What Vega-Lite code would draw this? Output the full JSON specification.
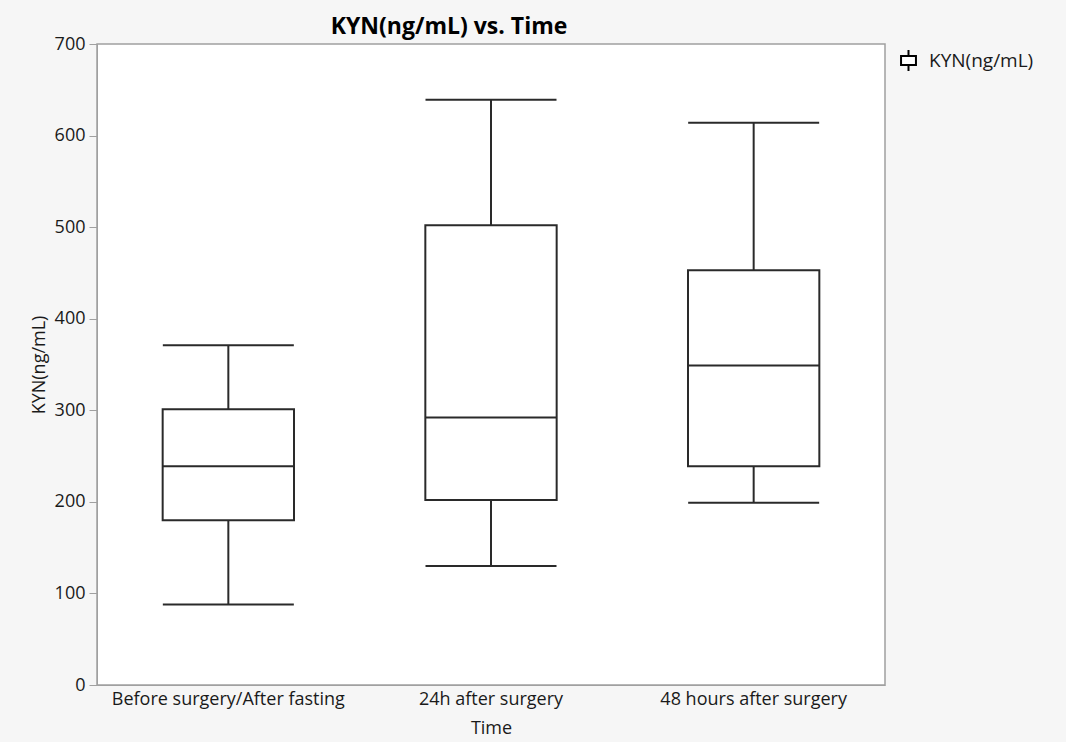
{
  "$schema": "https://vega.github.io/schema/vega-lite/v6.json",
  "autosize": "none",
  "padding": {"left": 97, "top": 44, "right": 181, "bottom": 57},
  "width": 788,
  "height": 641,
  "background": "#f6f6f6",
  "title": {"text": "KYN(ng/mL) vs. Time", "fontSize": 23, "font": "Open Sans", "fontWeight": "bold", "color": "#000000", "offset": -4, "anchor": "middle", "dx": -42},
  "config": {
    "view": {"stroke": "#a0a0a0", "strokeWidth": 1.5, "fill": "white"},
    "axis": {"labelFont": "Open Sans", "titleFont": "Open Sans", "labelFontSize": 18, "titleFontSize": 18, "labelColor": "#1a1a1a", "titleColor": "#1a1a1a", "titleFontWeight": "normal", "domainColor": "#a0a0a0", "tickColor": "#a0a0a0", "grid": false, "labelLimit": 0},
    "legend": {"labelFont": "Open Sans", "labelFontSize": 19, "labelColor": "#1a1a1a", "labelLimit": 0}
  },
  "data": {"values": [
    {"Time": "Before surgery/After fasting", "min": 88, "q1": 180, "median": 239, "q3": 301, "max": 371, "series": "KYN(ng/mL)"},
    {"Time": "24h after surgery", "min": 130, "q1": 202, "median": 292, "q3": 502, "max": 639, "series": "KYN(ng/mL)"},
    {"Time": "48 hours after surgery", "min": 199, "q1": 239, "median": 349, "q3": 453, "max": 614, "series": "KYN(ng/mL)"}
  ]},
  "encoding": {
    "x": {"field": "Time", "type": "nominal", "sort": null, "title": "Time",
      "scale": {"paddingInner": 0, "paddingOuter": 0},
      "axis": {"labelAngle": 0, "ticks": false, "labelPadding": 5, "titlePadding": 11}}
  },
  "layer": [
    {"mark": {"type": "rule", "color": "#2a2a2a", "strokeWidth": 2},
     "encoding": {"y": {"field": "min", "type": "quantitative", "scale": {"domain": [0, 700], "nice": false}, "title": "KYN(ng/mL)",
        "axis": {"values": [0,100,200,300,400,500,600,700], "tickSize": 8, "labelPadding": 4, "titlePadding": 6}},
       "y2": {"field": "q1"}}},
    {"mark": {"type": "rule", "color": "#2a2a2a", "strokeWidth": 2},
     "encoding": {"y": {"field": "q3", "type": "quantitative"}, "y2": {"field": "max"}}},
    {"mark": {"type": "bar", "fill": "white", "stroke": "#2a2a2a", "strokeWidth": 2, "width": {"band": 0.5}},
     "encoding": {"y": {"field": "q1", "type": "quantitative"}, "y2": {"field": "q3"},
       "color": {"field": "series", "type": "nominal", "title": null,
         "scale": {"range": ["white"]},
         "legend": {"orient": "none", "legendX": 800, "legendY": 5, "symbolType": "M-0.71,-0.43H0.71V0.43H-0.71Z M0,-0.43V-1 M0,0.43V1", "symbolStrokeColor": "#000000", "symbolFillColor": "white", "symbolStrokeWidth": 2, "symbolSize": 441, "labelOffset": 9}}}},
    {"mark": {"type": "tick", "color": "#2a2a2a", "thickness": 2, "size": 131, "opacity": 1},
     "encoding": {"y": {"field": "median", "type": "quantitative"}}},
    {"mark": {"type": "tick", "color": "#2a2a2a", "thickness": 2, "size": 131, "opacity": 1},
     "encoding": {"y": {"field": "min", "type": "quantitative"}}},
    {"mark": {"type": "tick", "color": "#2a2a2a", "thickness": 2, "size": 131, "opacity": 1},
     "encoding": {"y": {"field": "max", "type": "quantitative"}}}
  ]
}
